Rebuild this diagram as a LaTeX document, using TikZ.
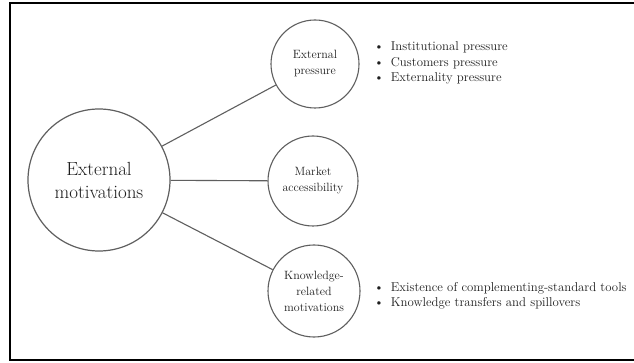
\documentclass[tikz,border=0pt]{standalone}
\usepackage{xcolor}
\definecolor{lin}{RGB}{95,95,95}
\definecolor{txt}{RGB}{30,30,30}
\begin{document}
\begin{tikzpicture}[x=1pt,y=-1pt,
  bigc/.style={circle,draw=lin,line width=1.2pt,minimum size=142pt,inner sep=0pt,align=center,text=txt,font=\fontsize{19}{23}\selectfont},
  smallc/.style={circle,draw=lin,line width=1.1pt,inner sep=0pt,align=center,text=txt,font=\fontsize{12}{16}\selectfont},
  link/.style={draw=lin,line width=1.1pt},
  blist/.style={anchor=west,inner sep=0pt,text=txt,font=\fontsize{12.8}{15.5}\selectfont}]
\useasboundingbox (0,0) rectangle (634,363);
\fill[white] (0,0) rectangle (634,363);
\draw[line width=2pt] (640,3) -- (10,3) -- (10,360) -- (640,360);
\node[bigc] (em) at (99,180) {External\\motivations};
\node[smallc,minimum size=88pt] (ep) at (315,64) {External\\pressure};
\node[smallc,minimum size=90pt] (ma) at (313,181) {Market\\accessibility};
\node[smallc,minimum size=92pt] (kr) at (314,291) {Knowledge-\\related\\motivations};
\draw[link] (em) -- (ep);
\draw[link] (em) -- (ma);
\draw[link] (em) -- (kr);
\node[blist] (l1) at (374,63) {\begin{tabular}{@{}l@{\hspace{7pt}}l@{}}\textbullet & Institutional pressure\\ \textbullet & Customers pressure\\ \textbullet & Externality pressure\end{tabular}};
\node[blist] (l2) at (374,296) {\begin{tabular}{@{}l@{\hspace{7pt}}l@{}}\textbullet & Existence of complementing-standard tools\\ \textbullet & Knowledge transfers and spillovers\end{tabular}};
\end{tikzpicture}
\end{document}
